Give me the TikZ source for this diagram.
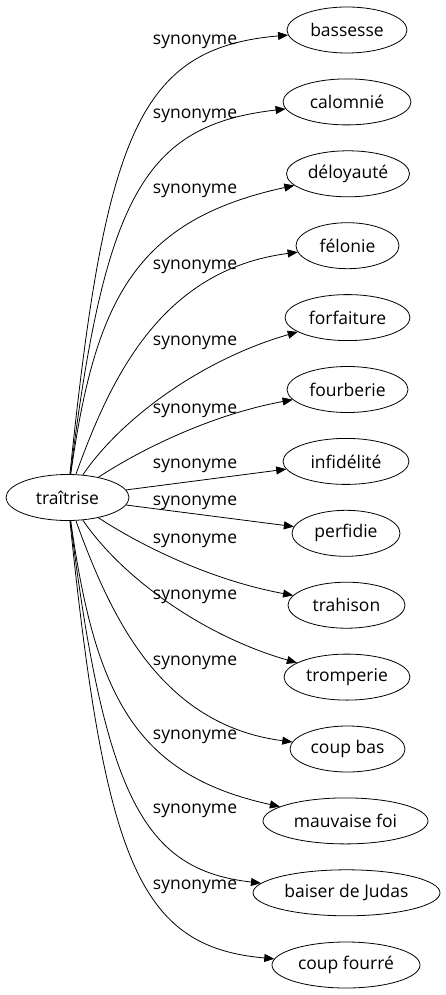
\documentclass[tikz,border=0pt]{standalone}
\usepackage{fontspec}
\setmainfont{Open Sans}
\usetikzlibrary{shapes.geometric,arrows.meta}
\begin{document}
\begin{tikzpicture}[x=1pt,y=-1pt,
  word/.style={draw, ellipse, inner sep=0pt, minimum height=46pt, line width=0.8pt,
    font=\fontsize{17.5}{20}\selectfont},
  rel/.style={font=\fontsize{17.5}{20}\selectfont, inner sep=0pt},
  syn/.style={draw, line width=0.8pt, -{Triangle[length=10pt,width=8pt]}}]
\useasboundingbox (0,0) rectangle (445,995);

\node[word, minimum width=123pt] (c) at (67.5,497.5) {traîtrise};

\node[word, minimum width=120pt] (t1)  at (347,30)    {bassesse};
\node[word, minimum width=128pt] (t2)  at (347,101.9) {calomnié};
\node[word, minimum width=123pt] (t3)  at (348,173.8) {déloyauté};
\node[word, minimum width=103pt] (t4)  at (347.5,245.7) {félonie};
\node[word, minimum width=125pt] (t5)  at (347.5,317.6) {forfaiture};
\node[word, minimum width=121pt] (t6)  at (347.5,389.5) {fourberie};
\node[word, minimum width=126pt] (t7)  at (346,461.4) {infidélité};
\node[word, minimum width=108pt] (t8)  at (346,533.3) {perfidie};
\node[word, minimum width=117pt] (t9)  at (346.5,605.2) {trahison};
\node[word, minimum width=126pt] (t10) at (347,677.1) {tromperie};
\node[word, minimum width=115pt] (t11) at (347.5,749)   {coup bas};
\node[word, minimum width=165pt] (t12) at (345.5,820.9) {mauvaise foi};
\node[word, minimum width=187pt] (t13) at (346.5,892.8) {baiser de Judas};
\node[word, minimum width=148pt] (t14) at (346,965)   {coup fourré};

\node[rel] (l1)  at (195,42)  {synonyme};
\node[rel] (l2)  at (195,116) {synonyme};
\node[rel] (l3)  at (195,191) {synonyme};
\node[rel] (l4)  at (195,267) {synonyme};
\node[rel] (l5)  at (195,343) {synonyme};
\node[rel] (l6)  at (195,411) {synonyme};
\node[rel] (l7)  at (195,466) {synonyme};
\node[rel] (l8)  at (195,503) {synonyme};
\node[rel] (l9)  at (195,541) {synonyme};
\node[rel] (l10) at (195,597) {synonyme};
\node[rel] (l11) at (195,663) {synonyme};
\node[rel] (l12) at (195,737) {synonyme};
\node[rel] (l13) at (195,811) {synonyme};
\node[rel] (l14) at (195,887) {synonyme};

\draw[syn] (c) .. controls (105,135) and (138,48) .. (t1);
\draw[syn] (c) .. controls (105,195) and (145,125) .. (t2);
\draw[syn] (c) .. controls (95,300) and (135,220) .. (t3);
\draw[syn] (c) .. controls (110,380) and (160,270) .. (t4);
\draw[syn] (c) .. controls (120,420) and (200,360) .. (t5);
\draw[syn] (c) .. controls (140,450) and (210,415) .. (t6);
\draw[syn] (c) -- (t7);
\draw[syn] (c) -- (t8);
\draw[syn] (c) .. controls (140,545) and (210,580) .. (t9);
\draw[syn] (c) .. controls (120,575) and (200,635) .. (t10);
\draw[syn] (c) .. controls (110,615) and (160,725) .. (t11);
\draw[syn] (c) .. controls (95,695) and (135,775) .. (t12);
\draw[syn] (c) .. controls (105,800) and (145,870) .. (t13);
\draw[syn] (c) .. controls (105,860) and (138,947) .. (t14);
\end{tikzpicture}
\end{document}
